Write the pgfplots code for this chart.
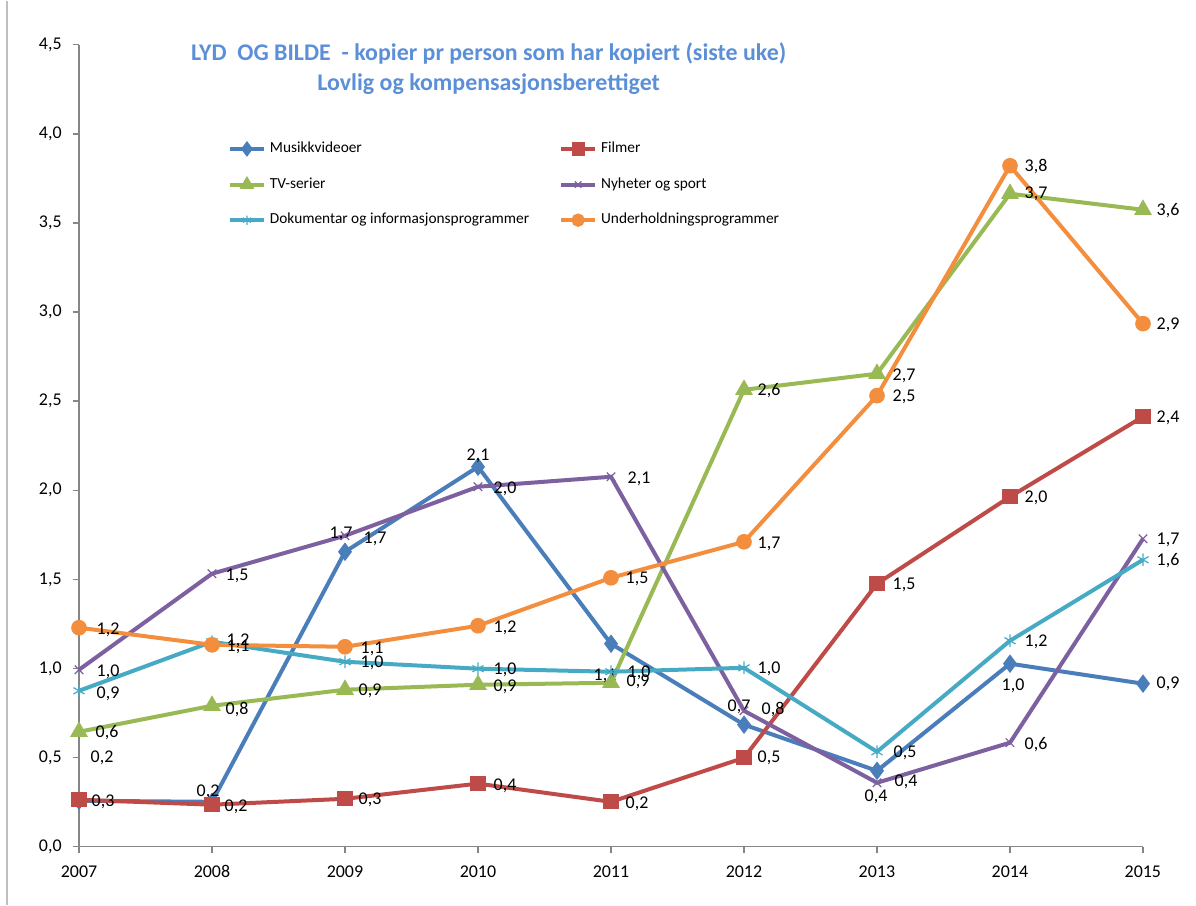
\documentclass[border=0pt]{standalone}
\usepackage{pgfplots}
\pgfplotsset{compat=1.18}
\usepackage{fontspec}
\setmainfont{Carlito}

\definecolor{cMus}{HTML}{4A7EBB}
\definecolor{cFil}{HTML}{BE4B48}
\definecolor{cTV}{HTML}{98B954}
\definecolor{cNyh}{HTML}{7D60A0}
\definecolor{cDok}{HTML}{46AAC5}
\definecolor{cUnd}{HTML}{F28E3E}
\definecolor{cTitle}{HTML}{5B8FD7}
\definecolor{cAxis}{HTML}{868686}

\pgfplotsset{
  lab/.style={
    point meta=explicit symbolic,
    nodes near coords,
    visualization depends on={value \thisrow{dx}\as\dx},
    visualization depends on={value \thisrow{dy}\as\dy},
    every node near coord/.append style={anchor=center, inner sep=0pt,
      text=black, font=\fontsize{9}{10}\selectfont,
      xshift=\dx bp, yshift=\dy bp},
  },
  ser/.style={line width=2bp, mark options={solid}},
}

\begin{document}
\begin{tikzpicture}
\begin{axis}[
  scale only axis,
  width=532bp, height=401bp,
  xmin=2007, xmax=2015,
  ymin=0, ymax=4.5,
  xtick={2007,...,2015},
  ytick={0,0.5,...,4.5},
  axis lines*=left,
  axis line style={cAxis, line width=0.75bp},
  tick style={cAxis, line width=0.75bp},
  tick align=outside,
  major tick length=3.2bp,
  hide obscured x ticks=false,
  hide obscured y ticks=false,
  clip=false,
  tick label style={font=\fontsize{9}{10}\selectfont},
  /pgf/number format/assume math mode=true,
  x tick label style={anchor=north, text height=6.5bp, yshift=-2bp, /pgf/number format/1000 sep={}},
  y tick label style={xshift=-2bp, /pgf/number format/.cd, fixed, fixed zerofill, precision=1, use comma},
  legend columns=2,
  legend cell align=left,
  legend style={at={(rel axis cs:0.134,0.889)}, anchor=north west, draw=none, fill=none,
    font=\fontsize{7.7}{9}\selectfont, row sep=7bp,
    /tikz/every odd column/.append style={column sep=0pt}},
  /tikz/every even column/.append style={column sep=13bp},
  legend image post style={mark size=2.3bp},
]

\addplot[ser, cMus, lab, mark=diamond*, mark size=3bp] table[x=x, y=y, meta=lab] {
x y lab dx dy
2007 0.258 0,2 11.5 21.5
2008 0.252 0,2 -2 5
2009 1.655 1,7 -2 9
2010 2.132 2,1 0 5.5
2011 1.139 1,1 -3 -16
2012 0.685 0,7 -2.5 9
2013 0.426 0,4 -0.5 -13
2014 1.027 1,0 1.5 -11
2015 0.915 0,9 12.5 0
};
\addlegendentry{Musikkvideoer}

\addplot[ser, cFil, lab, mark=square*, mark size=2.8bp] table[x=x, y=y, meta=lab] {
x y lab dx dy
2007 0.264 0,3 12 -1
2008 0.236 0,2 12 -1
2009 0.269 0,3 12.5 -0.5
2010 0.354 0,4 13.5 -1
2011 0.252 0,2 13 -1
2012 0.499 0,5 12.5 0
2013 1.476 1,5 13.5 -0.5
2014 1.964 2,0 13 -0.5
2015 2.413 2,4 12.5 -0.5
};
\addlegendentry{Filmer}

\addplot[ser, cTV, lab, mark=triangle*, mark size=3.2bp] table[x=x, y=y, meta=lab] {
x y lab dx dy
2007 0.645 0,6 14 -0.5
2008 0.791 0,8 12.5 -2
2009 0.881 0,9 12.5 -0.5
2010 0.909 0,9 13.5 -1
2011 0.920 0,9 13.5 0.5
2012 2.564 2,6 12.5 -0.5
2013 2.654 2,7 13.5 -1
2014 3.664 3,7 13 0
2015 3.574 3,6 12.5 -0.5
};
\addlegendentry{TV-serier}

\addplot[ser, cNyh, lab, mark=x, mark size=3bp, mark options={line width=0.6bp}] table[x=x, y=y, meta=lab] {
x y lab dx dy
2007 0.993 1,0 14.5 -1
2008 1.532 1,5 12.5 -1
2009 1.745 1,7 15 -1.5
2010 2.020 2,0 13.5 -1
2011 2.076 2,1 14 -1
2012 0.763 0,8 14.5 0.5
2013 0.359 0,4 14.5 0.5
2014 0.584 0,6 13 -1
2015 1.728 1,7 12.5 -0.5
};
\addlegendentry{Nyheter og sport}

\addplot[ser, cDok, lab, mark=asterisk, mark size=3.2bp, mark options={line width=0.6bp}] table[x=x, y=y, meta=lab] {
x y lab dx dy
2007 0.875 0,9 14.5 -1.5
2008 1.150 1,2 13 0.5
2009 1.038 1,0 13.5 -0.5
2010 0.999 1,0 13.5 -0.5
2011 0.982 1,0 14 -0.5
2012 1.004 1,0 12.5 -0.5
2013 0.533 0,5 14 -0.5
2014 1.156 1,2 13 -0.5
2015 1.610 1,6 12.5 -0.5
};
\addlegendentry{Dokumentar og informasjonsprogrammer}

\addplot[ser, cUnd, lab, mark=*, mark size=2.9bp] table[x=x, y=y, meta=lab] {
x y lab dx dy
2007 1.229 1,2 14.5 -1
2008 1.133 1,1 13 -1
2009 1.122 1,1 13.5 -1
2010 1.240 1,2 13.5 -1
2011 1.509 1,5 13 -0.5
2012 1.711 1,7 12.5 -1
2013 2.531 2,5 13.5 -0.5
2014 3.821 3,8 13 -0.5
2015 2.935 2,9 12.5 -0.5
};
\addlegendentry{Underholdningsprogrammer}

\node[anchor=north, inner sep=0pt, align=center, text=cTitle,
  font=\bfseries\fontsize{12}{15}\selectfont, yshift=1bp]
  at (rel axis cs:0.385,1)
  {LYD\ \ OG BILDE\ \ - kopier pr person som har kopiert (siste uke)\\
   Lovlig og kompensasjonsberettiget};

\draw[black!25, line width=0.75bp]
  ([xshift=-36bp, yshift=-29bp]rel axis cs:0,0) -- ([xshift=-36bp, yshift=22bp]rel axis cs:0,1);
\path ([xshift=-39.5bp, yshift=-29bp]rel axis cs:0,0) rectangle ([xshift=26.5bp, yshift=22bp]rel axis cs:1,1);
\end{axis}
\end{tikzpicture}
\end{document}
